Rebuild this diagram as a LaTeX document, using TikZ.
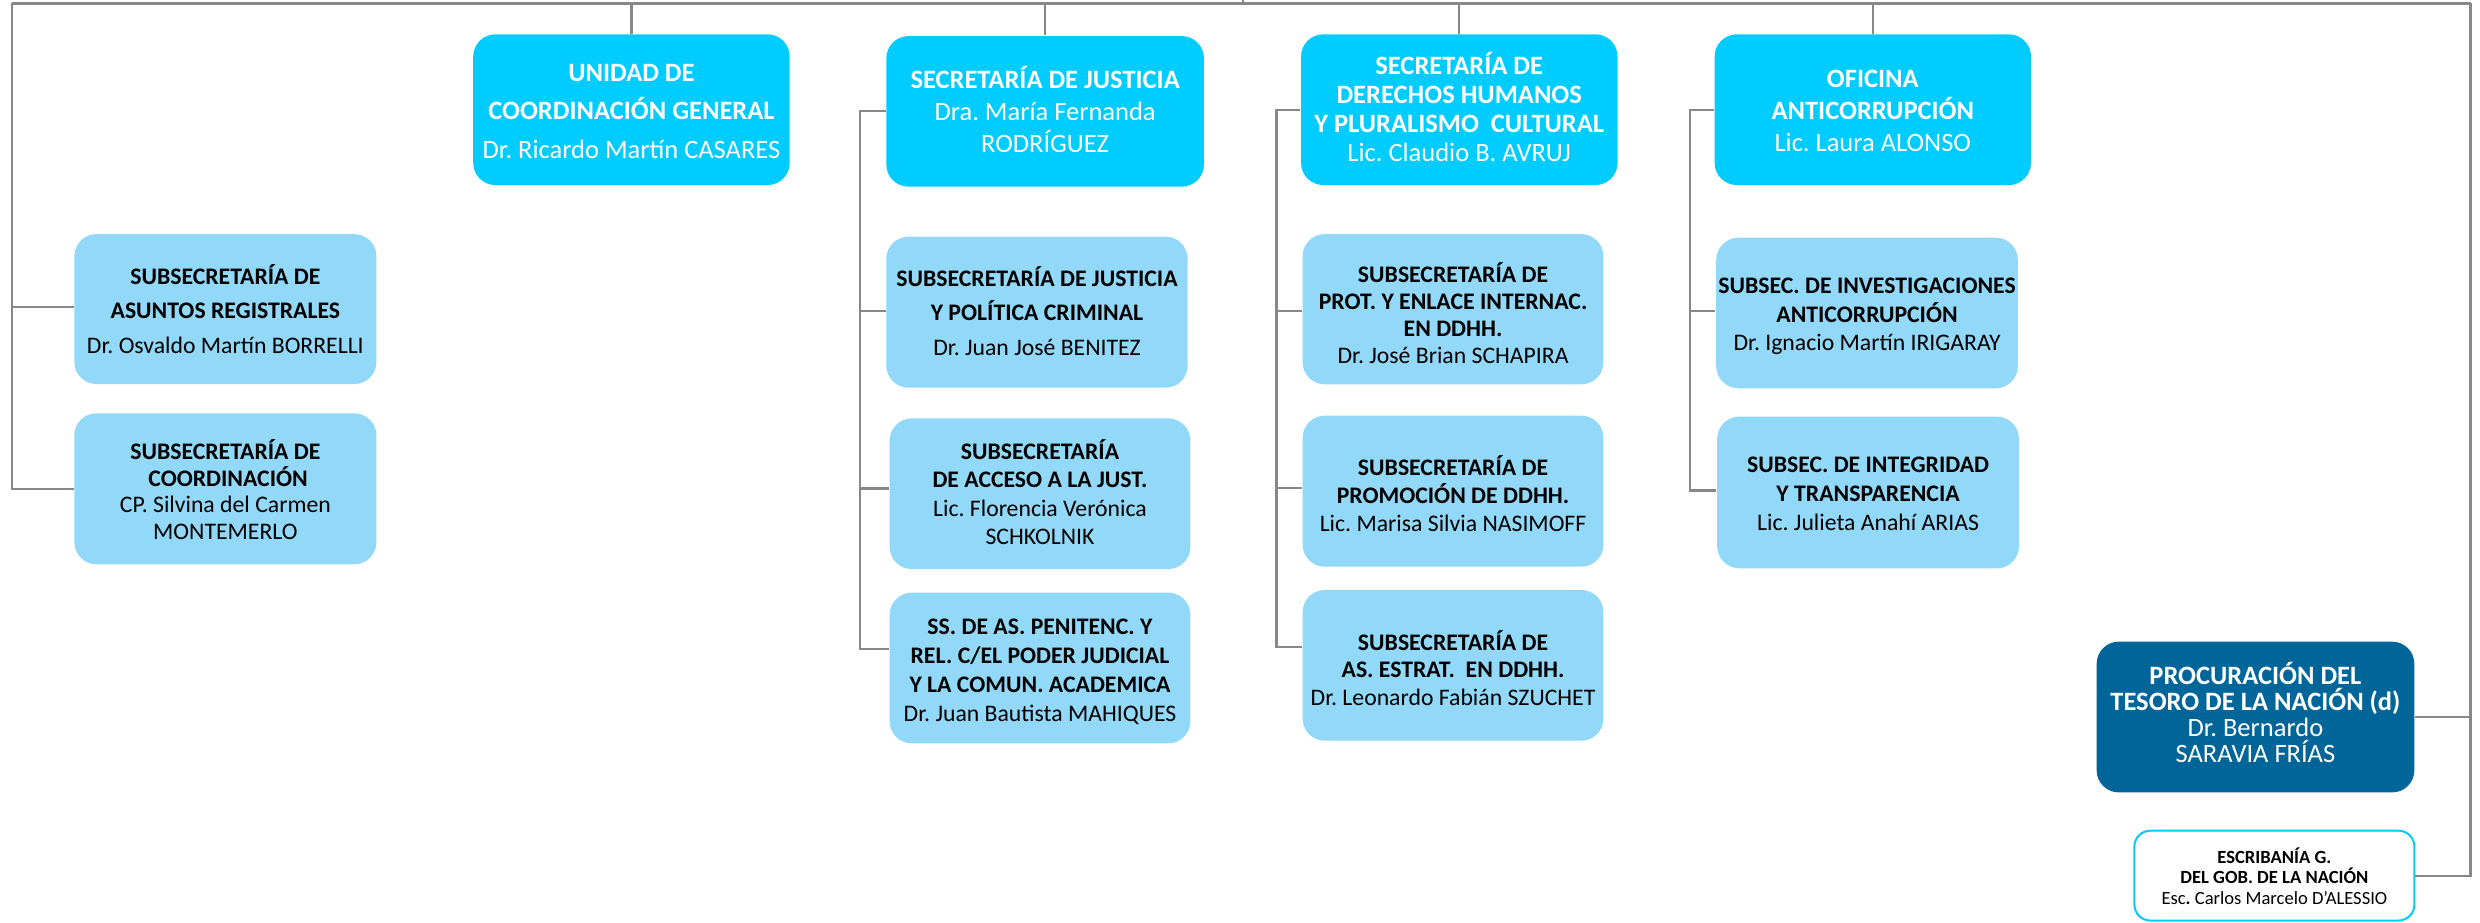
\documentclass[tikz,border=0pt]{standalone}
\usepackage{fontspec}
\setmainfont{Carlito}
\usetikzlibrary{fit,calc}
\definecolor{maincyan}{HTML}{00CCFF}
\definecolor{sublight}{HTML}{92D8F8}
\definecolor{ptnblue}{HTML}{006699}
\definecolor{linegray}{HTML}{888888}
\frenchspacing
\newcommand\txtlines[7]{%
  \foreach [count=\i] \ln in {#7} {%
    \node[anchor=base, inner sep=0pt, text=#6, font={\fontsize{#5}{#5}\selectfont\frenchspacing}] (#1-\i) at (#2, {#3+(\i-1)*#4+0.322*#5/0.4}) {\ln};
  }%
}
\begin{document}
\begin{tikzpicture}[x=0.4pt, y=-0.4pt,
  mainbox/.style={fill=maincyan, rounded corners=5.6pt, inner sep=0pt},
  subbox/.style={fill=sublight, rounded corners=5.6pt, inner sep=0pt},
  ptnbox/.style={fill=ptnblue, rounded corners=5.6pt, inner sep=0pt},
  escbox/.style={fill=white, draw=maincyan, line width=0.5pt, rounded corners=4pt, inner sep=0pt},
  conn/.style={draw=linegray, line width=0.55pt}]
\useasboundingbox (0,0) rectangle (1568,583);
% boxes
\node[mainbox, fit={(299.2,21.7) (499.3,117)}] (unidad) {};
\node[mainbox, fit={(560.4,22.8) (761.2,118)}] (justicia) {};
\node[mainbox, fit={(822.6,21.7) (1022.7,117)}] (ddhh) {};
\node[mainbox, fit={(1084.1,21.7) (1284.1,117)}] (oficina) {};
\node[subbox, fit={(47,148) (238,242.8)}] (borrelli) {};
\node[subbox, fit={(47,261.3) (238,356.8)}] (montemerlo) {};
\node[subbox, fit={(560.4,149.6) (750.9,245.1)}] (jpc) {};
\node[subbox, fit={(562.5,264.5) (752.6,359.8)}] (acceso) {};
\node[subbox, fit={(562.5,374.7) (752.6,470)}] (penit) {};
\node[subbox, fit={(823.6,148) (1013.8,243)}] (prot) {};
\node[subbox, fit={(823.6,262.8) (1013.8,358.3)}] (promo) {};
\node[subbox, fit={(823.6,373) (1013.8,468.3)}] (estrat) {};
\node[subbox, fit={(1085.1,150.3) (1275.8,245.5)}] (invest) {};
\node[subbox, fit={(1085.7,263.4) (1276.5,359.3)}] (integ) {};
\node[ptnbox, fit={(1325.6,405.7) (1526.5,501)}] (ptn) {};
\node[escbox, fit={(1349.5,525.2) (1526.5,582)}] (escrib) {};
% connector coordinates
\coordinate (tl) at (7.7,2.2);
\coordinate (tr) at (1562,2.2);
\coordinate (tick) at (785.9,0);
\coordinate (js) at (543.6,0);
\coordinate (ds) at (807.1,0);
\coordinate (os) at (1068.6,0);
\coordinate (borrc) at ($(borrelli.west)+(0,-1.4)$);
\coordinate (jpcc) at ($(jpc.west)+(0,-0.8)$);
\coordinate (accc) at ($(acceso.west)+(0,-3.3)$);
\coordinate (penc) at ($(penit.west)+(0,-11.9)$);
\coordinate (protc) at ($(prot.west)+(0,1.1)$);
\coordinate (promc) at ($(promo.west)+(0,-1.8)$);
\coordinate (estc) at ($(estrat.west)+(0,-11.8)$);
\coordinate (invc) at ($(invest.west)+(0,-1.3)$);
\coordinate (intc) at ($(integ.west)+(0,-1.2)$);
% connectors
\draw[conn] (tl) -- (tr);
\draw[conn] (tick) -- (tick |- tl);
\draw[conn] (unidad.north) -- (unidad.north |- tl);
\draw[conn] (justicia.north) -- (justicia.north |- tl);
\draw[conn] (ddhh.north) -- (ddhh.north |- tl);
\draw[conn] (oficina.north) -- (oficina.north |- tl);
\draw[conn] (tl) |- (montemerlo.west);
\draw[conn] (borrc) -- (borrc -| tl);
\draw[conn] (justicia.west) -| (js |- penc) -- (penc);
\draw[conn] (jpcc) -- (jpcc -| js);
\draw[conn] (accc) -- (accc -| js);
\draw[conn] (ddhh.west) -| (ds |- estc) -- (estc);
\draw[conn] (protc) -- (protc -| ds);
\draw[conn] (promc) -- (promc -| ds);
\draw[conn] (oficina.west) -| (os |- intc) -- (intc);
\draw[conn] (invc) -- (invc -| os);
\draw[conn] (tr) |- (escrib.east);
\draw[conn] (ptn.east) -- (ptn.east -| tr);
% texts
\txtlines{unidad}{399.25}{46}{24.25}{6.7}{white}{\textbf{UNIDAD DE},\textbf{COORDINACIÓN GENERAL},Dr. Ricardo Martín CASARES}
\txtlines{justicia}{660.8}{50.6}{20.2}{6.7}{white}{\textbf{SECRETARÍA DE JUSTICIA},Dra. María Fernanda,RODRÍGUEZ}
\txtlines{ddhh}{922.6}{41.7}{18.3}{6.7}{white}{\textbf{SECRETARÍA DE},\textbf{DERECHOS HUMANOS},\textbf{Y PLURALISMO\ \ CULTURAL},Lic. Claudio B. AVRUJ}
\txtlines{oficina}{1184.1}{50.1}{20}{6.7}{white}{\textbf{OFICINA},\textbf{ANTICORRUPCIÓN},Lic. Laura ALONSO}
\txtlines{borrelli}{142.5}{175}{21.8}{6}{black}{\textbf{SUBSECRETARÍA DE},\textbf{ASUNTOS REGISTRALES},Dr. Osvaldo Martín BORRELLI}
\txtlines{montemerlo}{142.5}{285.6}{16.9}{6}{black}{\textbf{SUBSECRETARÍA DE},\textbf{\ COORDINACIÓN},CP. Silvina del Carmen,MONTEMERLO}
\txtlines{jpc}{655.65}{176}{22.1}{6}{black}{\textbf{SUBSECRETARÍA DE JUSTICIA},\textbf{Y POLÍTICA CRIMINAL},Dr. Juan José BENITEZ}
\txtlines{acceso}{657.55}{285.6}{18}{6}{black}{\textbf{SUBSECRETARÍA},\textbf{DE ACCESO A LA JUST.},Lic. Florencia Verónica,SCHKOLNIK}
\txtlines{penit}{657.55}{396.2}{18.3}{6}{black}{\textbf{SS. DE AS. PENITENC. Y},\textbf{REL. C/EL PODER JUDICIAL},\textbf{Y LA COMUN. ACADEMICA},Dr. Juan Bautista MAHIQUES}
\txtlines{prot}{918.7}{173.5}{17.1}{6}{black}{\textbf{SUBSECRETARÍA DE},\textbf{PROT. Y ENLACE INTERNAC.},\textbf{EN DDHH.},Dr. José Brian SCHAPIRA}
\txtlines{promo}{918.7}{296.1}{17.6}{6}{black}{\textbf{SUBSECRETARÍA DE},\textbf{PROMOCIÓN DE DDHH.},Lic. Marisa Silvia NASIMOFF}
\txtlines{estrat}{918.7}{406.3}{17.4}{6}{black}{\textbf{SUBSECRETARÍA DE},\textbf{AS. ESTRAT.\ \ EN DDHH.},Dr. Leonardo Fabián SZUCHET}
\txtlines{invest}{1180.45}{180.8}{18}{6}{black}{\textbf{SUBSEC. DE INVESTIGACIONES},\textbf{ANTICORRUPCIÓN},Dr. Ignacio Martín IRIGARAY}
\txtlines{integ}{1181.1}{294}{18.2}{6}{black}{\textbf{SUBSEC. DE INTEGRIDAD},\textbf{Y TRANSPARENCIA},Lic. Julieta Anahí ARIAS}
\txtlines{ptn}{1426}{427.4}{16.4}{6.7}{white}{\textbf{PROCURACIÓN DEL},\textbf{TESORO DE LA NACIÓN (d)},Dr. Bernardo,SARAVIA FRÍAS}
\txtlines{escrib}{1438}{542.1}{13}{4.7}{black}{\textbf{ESCRIBANÍA G.},\textbf{DEL GOB. DE LA NACIÓN},Esc\textbf{.} Carlos Marcelo D’ALESSIO}
\end{tikzpicture}
\end{document}
